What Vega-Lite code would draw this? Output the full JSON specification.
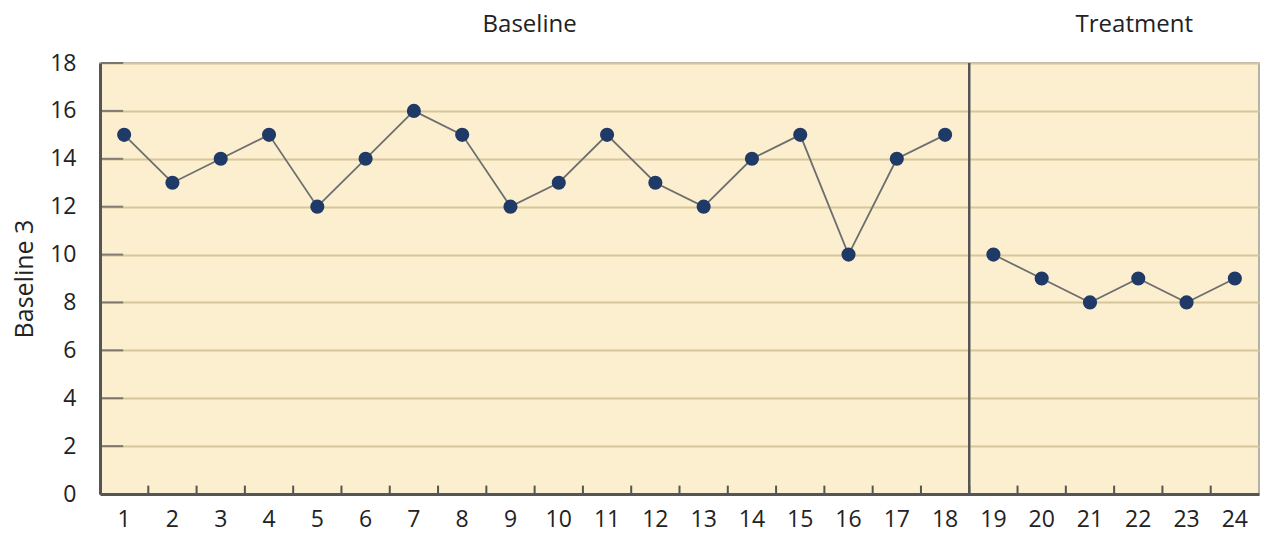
{
  "$schema": "https://vega.github.io/schema/vega-lite/v6.json",
  "width": 1159,
  "height": 431,
  "autosize": "none",
  "padding": {"left": 100, "top": 63, "right": 6, "bottom": 43},
  "background": "white",
  "config": {
    "font": "Open Sans",
    "view": {"fill": "#fcefcf", "stroke": "#9a9a9a", "strokeWidth": 1.5}
  },
  "datasets": {
    "points": [
      {"session": 1, "value": 15, "phase": "Baseline"},
      {"session": 2, "value": 13, "phase": "Baseline"},
      {"session": 3, "value": 14, "phase": "Baseline"},
      {"session": 4, "value": 15, "phase": "Baseline"},
      {"session": 5, "value": 12, "phase": "Baseline"},
      {"session": 6, "value": 14, "phase": "Baseline"},
      {"session": 7, "value": 16, "phase": "Baseline"},
      {"session": 8, "value": 15, "phase": "Baseline"},
      {"session": 9, "value": 12, "phase": "Baseline"},
      {"session": 10, "value": 13, "phase": "Baseline"},
      {"session": 11, "value": 15, "phase": "Baseline"},
      {"session": 12, "value": 13, "phase": "Baseline"},
      {"session": 13, "value": 12, "phase": "Baseline"},
      {"session": 14, "value": 14, "phase": "Baseline"},
      {"session": 15, "value": 15, "phase": "Baseline"},
      {"session": 16, "value": 10, "phase": "Baseline"},
      {"session": 17, "value": 14, "phase": "Baseline"},
      {"session": 18, "value": 15, "phase": "Baseline"},
      {"session": 19, "value": 10, "phase": "Treatment"},
      {"session": 20, "value": 9, "phase": "Treatment"},
      {"session": 21, "value": 8, "phase": "Treatment"},
      {"session": 22, "value": 9, "phase": "Treatment"},
      {"session": 23, "value": 8, "phase": "Treatment"},
      {"session": 24, "value": 9, "phase": "Treatment"}
    ],
    "baselineLabel": [{"phase": "Baseline", "session": 9}],
    "treatmentLabel": [{"phase": "Treatment", "session": 22}],
    "divider": [{"session": 18}],
    "yticks": [{"v": 2}, {"v": 4}, {"v": 6}, {"v": 8}, {"v": 10}, {"v": 12}, {"v": 14}, {"v": 16}, {"v": 18}]
  },
  "layer": [
    {
      "data": {"name": "points"},
      "mark": {"type": "point", "opacity": 0},
      "encoding": {
        "x": {
          "field": "session", "type": "ordinal",
          "scale": {"paddingInner": 0, "paddingOuter": 0},
          "axis": {
            "title": null, "labelAngle": 0, "labelFontSize": 23, "labelColor": "#222",
            "ticks": false, "labelPadding": 14,
            "domainColor": "#555", "domainWidth": 3
          }
        },
        "y": {
          "field": "value", "type": "quantitative",
          "scale": {"domain": [0, 18], "nice": false},
          "axis": {
            "title": "Baseline 3", "titleFontSize": 25, "titleFontWeight": "normal", "titleColor": "#222",
            "titlePadding": 12,
            "values": [0, 2, 4, 6, 8, 10, 12, 14, 16, 18],
            "labelFontSize": 23, "labelColor": "#222", "labelPadding": 24,
            "ticks": false,
            "domainColor": "#555", "domainWidth": 3,
            "grid": true, "gridColor": "#d6c699", "gridWidth": 2
          }
        }
      }
    },
    {
      "data": {"name": "yticks"},
      "mark": {"type": "tick", "color": "#555", "thickness": 2, "size": 22, "orient": "horizontal", "xOffset": -12},
      "encoding": {
        "x": {"datum": 1, "type": "ordinal"},
        "y": {"field": "v", "type": "quantitative"}
      }
    },
    {
      "data": {"name": "points"},
      "mark": {"type": "rule", "color": "#555", "strokeWidth": 2},
      "encoding": {
        "x": {"field": "session", "type": "ordinal", "bandPosition": 0},
        "y": {"datum": 0, "type": "quantitative"},
        "y2": {"datum": 0.35}
      }
    },
    {
      "data": {"name": "divider"},
      "mark": {"type": "rule", "color": "#555", "strokeWidth": 2.5},
      "encoding": {
        "x": {"field": "session", "type": "ordinal", "bandPosition": 1}
      }
    },
    {
      "data": {"name": "points"},
      "mark": {"type": "line", "color": "#6e6e6e", "strokeWidth": 1.8},
      "encoding": {
        "x": {"field": "session", "type": "ordinal"},
        "y": {"field": "value", "type": "quantitative"},
        "detail": {"field": "phase"}
      }
    },
    {
      "data": {"name": "points"},
      "mark": {"type": "circle", "color": "#1f3a66", "opacity": 1, "size": 200},
      "encoding": {
        "x": {"field": "session", "type": "ordinal"},
        "y": {"field": "value", "type": "quantitative"}
      }
    },
    {
      "data": {"name": "baselineLabel"},
      "mark": {"type": "text", "fontSize": 24, "color": "#222", "dy": -38, "align": "center", "dx": -5},
      "encoding": {
        "x": {"field": "session", "type": "ordinal", "bandPosition": 1},
        "y": {"datum": 18, "type": "quantitative"},
        "text": {"field": "phase"}
      }
    },
    {
      "data": {"name": "treatmentLabel"},
      "mark": {"type": "text", "fontSize": 24, "color": "#222", "dy": -38, "align": "center", "dx": -4},
      "encoding": {
        "x": {"field": "session", "type": "ordinal"},
        "y": {"datum": 18, "type": "quantitative"},
        "text": {"field": "phase"}
      }
    }
  ]
}
